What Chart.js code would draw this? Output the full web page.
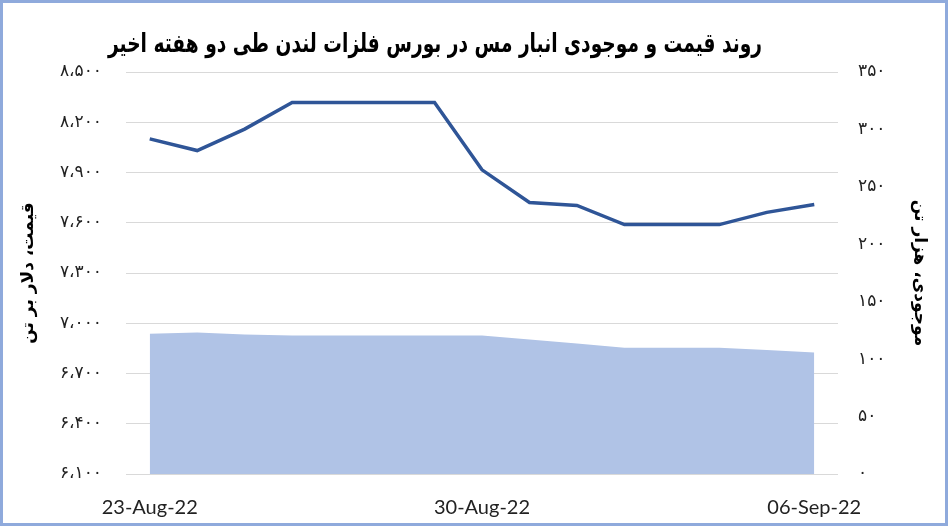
<!DOCTYPE html>
<html>
<head>
<meta charset="utf-8">
<script src="https://cdn.jsdelivr.net/npm/chart.js@4.4.0/dist/chart.umd.min.js"></script>
<style>
  html, body { margin: 0; padding: 0; background: #fff; }
  #wrap { position: relative; width: 948px; height: 526px; }
  #frame { position: absolute; inset: 0; border: 3px solid #8FAADC; box-sizing: border-box; pointer-events: none; }
</style>
</head>
<body>
<div id="wrap">
  <canvas id="chart" width="948" height="526"></canvas>
  <div id="frame"></div>
</div>
<script>
// data
const days = ["23-Aug-22", "24-Aug-22", "25-Aug-22", "26-Aug-22", "27-Aug-22", "28-Aug-22", "29-Aug-22",
  "30-Aug-22", "31-Aug-22", "01-Sep-22", "02-Sep-22", "03-Sep-22", "04-Sep-22", "05-Sep-22", "06-Sep-22"];
const price = [8101, 8031, 8159, 8318, 8318, 8318, 8318, 7916, 7721, 7703, 7589, 7589, 7589, 7662, 7709];
const stock = [122.2, 123.1, 121.5, 120.5, 120.5, 120.5, 120.5, 120.5, 117.1, 113.7, 110, 110, 110, 108, 105.7];

const priceAxis = { min: 6100, max: 8500, step: 300 };
const stockAxis = { min: 0, max: 350, step: 50 };

const chartTitle = "روند قیمت و موجودی انبار مس در بورس فلزات لندن طی دو هفته اخیر";
const priceTitle = "قیمت، دلار بر تن";
const stockTitle = "موجودی، هزار تن";

// persian digits
const faDigits = "۰۱۲۳۴۵۶۷۸۹";
function toFa(n, sep) {
  let s = String(Math.round(n));
  if (sep) s = s.replace(/\B(?=(\d{3})+(?!\d))/g, "،");
  return s.replace(/\d/g, d => faDigits[d]);
}

const faFont = '"DejaVu Sans", sans-serif';

// title drawn a bit narrower so it fits like the original
const titlePlugin = {
  id: "faTitle",
  afterDraw(chart) {
    const c = chart.ctx;
    c.save();
    c.font = "bold 26px " + faFont;
    const w = c.measureText(chartTitle).width;
    const sx = Math.min(1, 654 / w);
    c.translate(435, 45);
    c.scale(sx, 1);
    c.fillStyle = "#000";
    c.textAlign = "center";
    c.textBaseline = "middle";
    c.fillText(chartTitle, 0, 0);
    c.restore();
  }
};

new Chart(document.getElementById("chart"), {
  type: "line",
  data: {
    labels: days,
    datasets: [
      {
        label: "price",
        data: price,
        yAxisID: "y",
        borderColor: "#2F5597",
        borderWidth: 3.5,
        pointRadius: 0,
        tension: 0,
        fill: false,
        order: 1,
      },
      {
        label: "stock",
        data: stock,
        yAxisID: "y1",
        borderWidth: 0,
        backgroundColor: "#B0C3E6",
        pointRadius: 0,
        tension: 0,
        fill: "origin",
        order: 2,
      },
    ],
  },
  options: {
    responsive: false,
    animation: false,
    devicePixelRatio: 1,
    layout: { padding: { top: 72, left: 0, right: 0, bottom: 0 } },
    plugins: {
      legend: { display: false },
      tooltip: { enabled: false },
    },
    scales: {
      x: {
        offset: true,
        grid: { display: false },
        border: { display: false },
        ticks: {
          autoSkip: false,
          maxRotation: 0,
          padding: 14,
          color: "#222",
          font: { family: "Lato", size: 20 },
          callback: (v, i) => (i % 7 === 0 ? days[i] : ""),
        },
        afterFit: s => { s.height = 52; },
      },
      y: {
        position: "left",
        min: priceAxis.min,
        max: priceAxis.max,
        grid: { color: "#D9D9D9", drawTicks: false },
        border: { display: false },
        ticks: {
          stepSize: priceAxis.step,
          padding: 24,
          color: "#222",
          font: { family: faFont, size: 17 },
          callback: v => toFa(v, true),
        },
        title: {
          display: true,
          text: priceTitle,
          color: "#000",
          font: { family: faFont, size: 17, weight: "bold" },
          padding: { top: 18, bottom: 0 },
        },
        afterFit: s => { s.width = 126; },
      },
      y1: {
        position: "right",
        min: stockAxis.min,
        max: stockAxis.max,
        grid: { display: false, drawTicks: false },
        border: { display: false },
        ticks: {
          stepSize: stockAxis.step,
          padding: 20,
          color: "#222",
          font: { family: faFont, size: 17 },
          callback: v => toFa(v, false),
        },
        title: {
          display: true,
          text: stockTitle,
          color: "#000",
          font: { family: faFont, size: 17, weight: "bold" },
          padding: { top: 18, bottom: 0 },
        },
        afterFit: s => { s.width = 110; },
      },
    },
  },
  plugins: [titlePlugin],
});
</script>
</body>
</html>
